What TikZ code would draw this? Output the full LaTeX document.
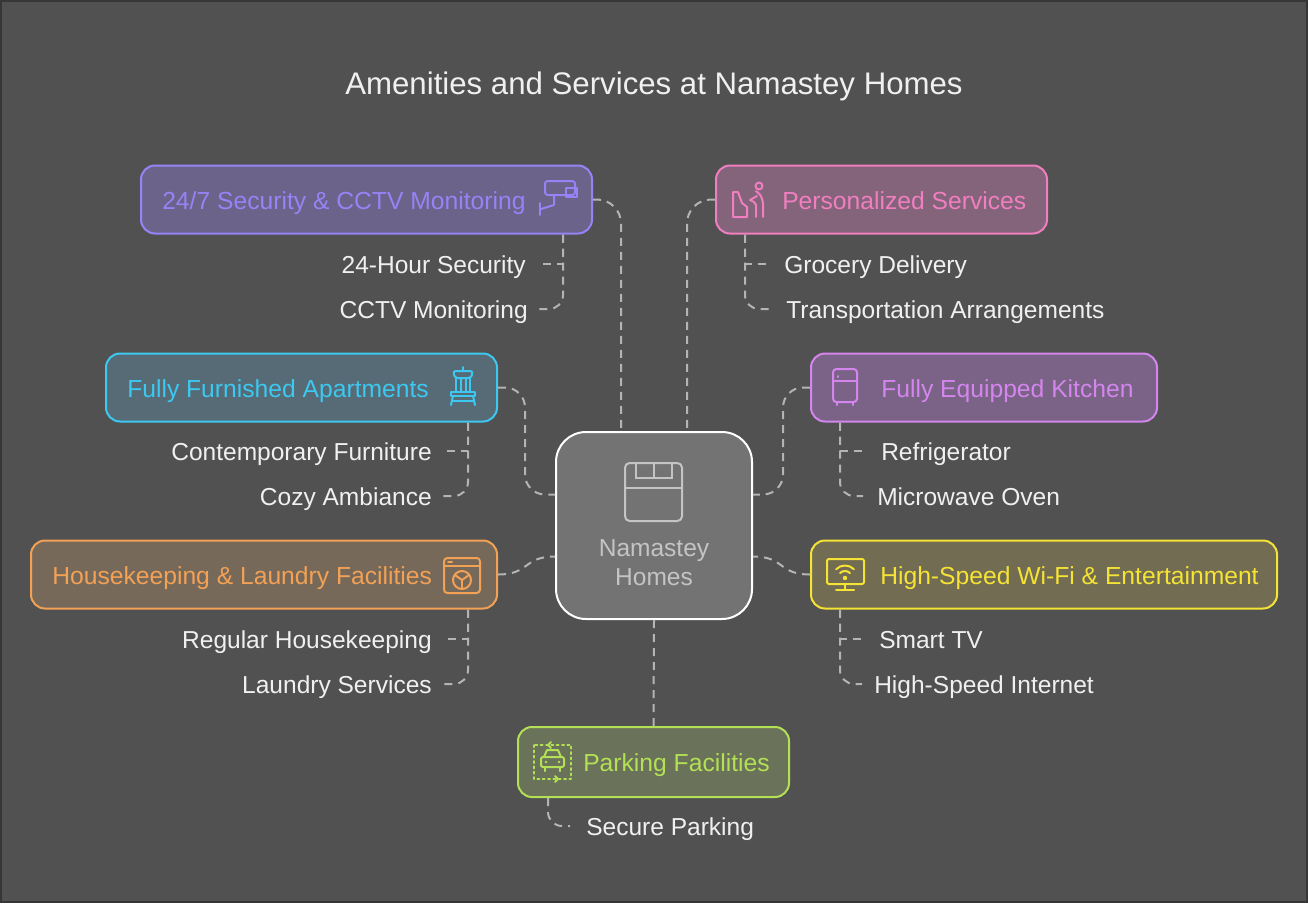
\documentclass[tikz,border=0pt]{standalone}
\usepackage{fontspec}
\setmainfont{Liberation Sans}
\usetikzlibrary{calc}
\definecolor{bgc}{HTML}{515151}
\definecolor{edgec}{HTML}{363636}
\definecolor{connc}{HTML}{B4B4B4}
\definecolor{subc}{HTML}{F0F0F0}
\definecolor{secS}{HTML}{9683F5}\definecolor{secF}{HTML}{6B6389}
\definecolor{persS}{HTML}{F07EC0}\definecolor{persF}{HTML}{83647A}
\definecolor{furnS}{HTML}{3CC8F0}\definecolor{furnF}{HTML}{566B75}
\definecolor{kitS}{HTML}{D485EE}\definecolor{kitF}{HTML}{7A6386}
\definecolor{hkS}{HTML}{F2A155}\definecolor{hkF}{HTML}{76695A}
\definecolor{wifiS}{HTML}{F5E335}\definecolor{wifiF}{HTML}{726C52}
\definecolor{parkS}{HTML}{B3E055}\definecolor{parkF}{HTML}{6A7259}
\definecolor{hubF}{HTML}{737373}\definecolor{hubT}{HTML}{C4C4C4}
\begin{document}
\begin{tikzpicture}[x=0.75pt,y=-0.75pt,
  box/.style={draw=#1S, fill=#1F, line width=1.5pt, rounded corners=10.5pt,
    minimum height=51pt, inner sep=0pt},
  lbl/.style={inner sep=0pt, text=#1S, font=\fontsize{18.5pt}{22pt}\selectfont},
  sub/.style={inner sep=0pt, text=subc, font=\fontsize{18.4pt}{22pt}\selectfont},
  conn/.style={draw=connc, line width=1.5pt, dash pattern=on 6pt off 4.5pt},
  icn/.style={draw=#1S, line width=1.5pt, line cap=round, line join=round},
  hubtext/.style={inner sep=0pt, text=hubT, font=\fontsize{18.4pt}{22pt}\selectfont}
]
\useasboundingbox (0,0) rectangle (1308,903);
\fill[bgc] (0,0) rectangle (1308,903);
\draw[edgec, line width=1.5pt] (1,1) rectangle (1307,902);

% title
\node[inner sep=0pt, text=subc, font=\fontsize{23.4pt}{28pt}\selectfont, anchor=base] (ttl) at (654,94) {Amenities and Services at Namastey Homes};

% hub
\node[draw=white, fill=hubF, line width=1.5pt, rounded corners=22.5pt,
      minimum width=147pt, minimum height=140.25pt, inner sep=0pt] (hub) at (654,525.5) {};
\node[hubtext, anchor=base] (hubA) at (654,556) {Namastey};
\node[hubtext, anchor=base] (hubB) at (654,585) {Homes};
\draw[hubT, line width=1.5pt, rounded corners=3.5pt] (625,463) rectangle (682,521);
\draw[hubT, line width=1.5pt] (625,488) -- (682,488);
\draw[hubT, line width=1.5pt] (636,463) -- (636,478) -- (672,478) -- (672,463);
\draw[hubT, line width=1.5pt] (654,463) -- (654,478);

\coordinate (hubT1) at ($(hub.north west)+(66,0)$);
\coordinate (hubT2) at ($(hub.north east)+(-66,0)$);
\coordinate (hubL1) at ($(hub.west)+(0,-31)$);
\coordinate (hubL2) at ($(hub.west)+(0,31)$);
\coordinate (hubR1) at ($(hub.east)+(0,-31)$);
\coordinate (hubR2) at ($(hub.east)+(0,31)$);

% boxes
\node[box=sec,  minimum width=338.25pt] (sec)  at (366.5,199.5) {};
\node[box=pers, minimum width=248.25pt] (pers) at (881.5,199.5) {};
\node[box=furn, minimum width=293.25pt] (furn) at (301.5,387.5) {};
\node[box=kit,  minimum width=259.5pt]  (kit)  at (984,387.5) {};
\node[box=hk,   minimum width=349.5pt]  (hk)   at (264,574.5) {};
\node[box=wifi, minimum width=349.5pt]  (wifi) at (1044,574.5) {};
\node[box=park, minimum width=203.25pt, minimum height=52.5pt] (park) at (653.5,762) {};

% box labels
\node[lbl=sec,  anchor=base west] (secL)  at (162,209) {24/7 Security \& CCTV Monitoring};
\node[lbl=pers, anchor=base west] (persL) at (782,209) {Personalized Services};
\node[lbl=furn, anchor=base west] (furnL) at (127,397) {Fully Furnished Apartments};
\node[lbl=kit,  anchor=base west] (kitL)  at (881,397) {Fully Equipped Kitchen};
\node[lbl=hk,   anchor=base west] (hkL)   at (52,584) {Housekeeping \& Laundry Facilities};
\node[lbl=wifi, anchor=base west] (wifiL) at (880,584) {High-Speed Wi-Fi \& Entertainment};
\node[lbl=park, anchor=base west] (parkL) at (583,771) {Parking Facilities};

% sub items
\node[sub, anchor=base east] (sec1) at (526,273) {24-Hour Security};
\node[sub, anchor=base east] (sec2) at (528,318) {CCTV Monitoring};
\node[sub, anchor=base west] (pers1) at (784,273) {Grocery Delivery};
\node[sub, anchor=base west] (pers2) at (786,318) {Transportation Arrangements};
\node[sub, anchor=base east] (furn1) at (432,460) {Contemporary Furniture};
\node[sub, anchor=base east] (furn2) at (432,505) {Cozy Ambiance};
\node[sub, anchor=base west] (kit1) at (881,460) {Refrigerator};
\node[sub, anchor=base west] (kit2) at (877,505) {Microwave Oven};
\node[sub, anchor=base east] (hk1) at (432,648) {Regular Housekeeping};
\node[sub, anchor=base east] (hk2) at (432,693) {Laundry Services};
\node[sub, anchor=base west] (wifi1) at (879,648) {Smart TV};
\node[sub, anchor=base west] (wifi2) at (874,693) {High-Speed Internet};
\node[sub, anchor=base west] (park1) at (586,835) {Secure Parking};

% main connectors
\draw[conn, rounded corners=18pt] (sec.east) -| (hubT1);
\draw[conn, rounded corners=18pt] (pers.west) -| (hubT2);
\draw[conn, rounded corners=15pt] (furn.east) -| ($(hubL1)+(-30,0)$) -- (hubL1);
\draw[conn, rounded corners=15pt] (kit.west) -| ($(hubR1)+(30,0)$) -- (hubR1);
\draw[conn] (hk.east) .. controls ($(hk.east)+(32,0)$) and ($(hubL2)+(-32,0)$) .. (hubL2);
\draw[conn] (wifi.west) .. controls ($(wifi.west)+(-32,0)$) and ($(hubR2)+(32,0)$) .. (hubR2);
\draw[conn] (hub.south) -- (park.north);

% sub connectors
\draw[conn] ($(sec.south east)+(-30,0)$) |- ($(sec1.base east)+(14,-9)$);
\draw[conn, rounded corners=10.5pt] ($(sec.south east)+(-30,0)$) |- ($(sec2.base east)+(11,-9)$);
\draw[conn] ($(pers.south west)+(30,0)$) |- ($(pers1.base west)+(-14,-9)$);
\draw[conn, rounded corners=10.5pt] ($(pers.south west)+(30,0)$) |- ($(pers2.base west)+(-15,-9)$);
\draw[conn] ($(furn.south east)+(-30,0)$) |- ($(furn1.base east)+(11,-9)$);
\draw[conn, rounded corners=10.5pt] ($(furn.south east)+(-30,0)$) |- ($(furn2.base east)+(11,-9)$);
\draw[conn] ($(kit.south west)+(30,0)$) |- ($(kit1.base west)+(-18,-9)$);
\draw[conn, rounded corners=10.5pt] ($(kit.south west)+(30,0)$) |- ($(kit2.base west)+(-14,-9)$);
\draw[conn] ($(hk.south east)+(-30,0)$) |- ($(hk1.base east)+(11,-9)$);
\draw[conn, rounded corners=10.5pt] ($(hk.south east)+(-30,0)$) |- ($(hk2.base east)+(11,-9)$);
\draw[conn] ($(wifi.south west)+(30,0)$) |- ($(wifi1.base west)+(-17,-9)$);
\draw[conn, rounded corners=10.5pt] ($(wifi.south west)+(30,0)$) |- ($(wifi2.base west)+(-12,-9)$);
\draw[conn, rounded corners=10.5pt] ($(park.south west)+(31,0)$) |- ($(park1.base west)+(-16,-9)$);

% icon: cctv camera
\draw[icn=sec, rounded corners=2pt] (545,181) rectangle (575,195);
\draw[icn=sec] (566,188) -- (577,188) -- (577,197) -- (566,197) -- cycle;
\draw[icn=sec] (554,195) -- (554,205) -- (541,209);
\draw[icn=sec] (540,203) -- (540,215);
% icon: personal service
\draw[icn=pers] (733,192) -- (738,192) -- (742,203) -- (747,207) -- (747,217) -- (733,217) -- cycle;
\draw[icn=pers] (759,186) circle[radius=3.5];
\draw[icn=pers] (756,191) .. controls (762,195) and (764,200) .. (763,217);
\draw[icn=pers] (757,196) -- (750,200) -- (754,202) -- (756,205) -- (756,217);
% icon: chair
\draw[icn=furn] (463,367) -- (463,371);
\draw[icn=furn, rounded corners=2pt] (453,371) -- (473,371) -- (471,378) -- (455,378) -- cycle;
\foreach \xx in {456,461,466,470} \draw[icn=furn] (\xx,378) -- (\xx,392);
\draw[icn=furn] (451,392) -- (475,392) -- (475,396) -- (451,396) -- cycle;
\draw[icn=furn] (453,396) -- (451,405);
\draw[icn=furn] (473,396) -- (475,405);
\draw[icn=furn] (452,401) -- (474,401);
% icon: fridge
\draw[icn=kit, rounded corners=2.5pt] (833,369) rectangle (857,402);
\draw[icn=kit] (833,381) -- (857,381);
\draw[icn=kit] (838,376) -- (838,377);
\draw[icn=kit] (837,402) -- (837,405);
\draw[icn=kit] (853,402) -- (853,405);
% icon: washing machine
\draw[icn=hk, rounded corners=2.5pt] (444,558) rectangle (480,593);
\draw[icn=hk] (444,566) -- (480,566);
\draw[icn=hk] (448,562) -- (452,562);
\draw[icn=hk] (462,580) circle[radius=9];
\draw[icn=hk] (462,580) -- (462,589);
\draw[icn=hk] (462,580) -- (455,575);
\draw[icn=hk] (462,580) -- (469,575);
% icon: tv wifi
\draw[icn=wifi, rounded corners=1.5pt] (827,559) rectangle (864,584);
\draw[icn=wifi] (845,584) -- (845,590);
\draw[icn=wifi] (836,590) -- (854,590);
\fill[wifiS] (845,578) circle[radius=2.2];
\draw[icn=wifi] (840.05,573.05) arc[start angle=225, end angle=315, radius=7];
\draw[icn=wifi] (836.16,569.16) arc[start angle=225, end angle=315, radius=12.5];
% icon: parking
\draw[icn=park, dash pattern=on 1.5pt off 2.5pt] (534,745) rectangle (571,779);
\draw[icn=park] (551,742) -- (548,745) -- (551,748);
\draw[icn=park] (555,776) -- (558,779) -- (555,782);
\draw[icn=park] (544,757) -- (547,750) -- (558,750) -- (561,757);
\draw[icn=park, rounded corners=1.5pt] (541,757) rectangle (564,767);
\draw[icn=park] (545,767) -- (545,771);
\draw[icn=park] (560,767) -- (560,771);
\fill[parkS] (546,762) circle[radius=1.3];
\fill[parkS] (559,762) circle[radius=1.3];
\end{tikzpicture}
\end{document}
